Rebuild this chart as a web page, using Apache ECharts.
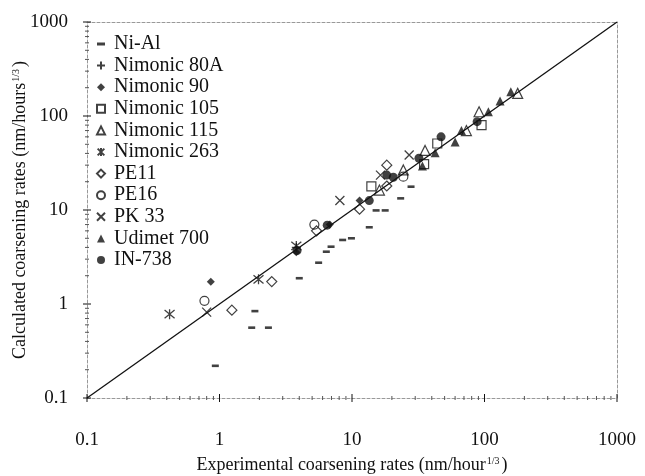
<!DOCTYPE html>
<html>
<head>
<meta charset="utf-8">
<script src="https://cdn.jsdelivr.net/npm/echarts@6/dist/echarts.min.js"></script>
<style>
  html, body { margin: 0; padding: 0; background: #fff; }
  #chart { width: 645px; height: 476px; }
</style>
</head>
<body>
<div id="chart"></div>
<script>
// Experimental vs calculated coarsening rates, log-log, with the y = x line.
const seriesNames = ['Ni-Al', 'Nimonic 80A', 'Nimonic 90', 'Nimonic 105', 'Nimonic 115',
  'Nimonic 263', 'PE11', 'PE16', 'PK 33', 'Udimet 700', 'IN-738'];

// [experimental, calculated]
const niAl = [[0.93, 0.22], [1.75, 0.56], [2.34, 0.56], [1.85, 0.84], [4.0, 1.88], [5.6, 2.75],
  [6.4, 3.6], [6.95, 4.07], [8.5, 4.8], [9.9, 5.0], [13.5, 6.55], [15.2, 9.9], [17.8, 9.9],
  [23.3, 13.3], [27.9, 17.7]];
const nimonic80A = [[3.8, 4.0]];
const nimonic90 = [[0.86, 1.72], [3.8, 3.55], [6.8, 7.0], [11.4, 12.6]];
const nimonic105 = [[14.0, 17.8], [35, 30.8], [44, 51], [95, 80]];
const nimonic115 = [[16.1, 16.3], [24.4, 26.7], [35.6, 43], [73, 70], [91, 111], [178, 174]];
const nimonic263 = [[0.42, 0.78], [1.97, 1.83], [3.8, 4.15]];
const pe11 = [[1.24, 0.86], [2.48, 1.73], [5.4, 6.0], [11.4, 10.2], [18.3, 18.0], [18.3, 30]];
const pe16 = [[0.77, 1.08], [5.2, 7.0], [24.4, 22.6]];
const pk33 = [[0.8, 0.82], [8.1, 12.6], [16.4, 23.5], [27, 38.5]];
const udimet700 = [[34, 29.4], [42.4, 40.6], [60, 53], [67, 70], [107, 111], [131, 144], [158, 181]];
const in738 = [[3.85, 3.7], [6.5, 6.9], [13.5, 12.6], [18.3, 23.5], [20.5, 22.3], [32, 35.5], [47, 60], [88, 87]];

const parityLine = [[0.1, 0.1], [1000, 1000]];

const tickLabels = ['0.1', '1', '10', '100', '1000'];
const majorTicks = [0.1, 1, 10, 100, 1000];
const decades = [0.1, 1, 10, 100];
const mantissas = [2, 3, 4, 5, 6, 7, 8, 9];
const minorTicks = decades.flatMap(d => mantissas.map(m => +(d * m).toPrecision(2)));

const FONT = '"Liberation Serif", "Times New Roman", serif';
const INK = '#111';

const sym = {
  dash: 'path://M0,0H8V3H0Z',
  plus: 'path://M5,0V10M0,5H10',
  cross: 'path://M0,0L10,10M10,0L0,10',
  star: 'path://M0,1L10,11M10,1L0,11M5,0V12'
};

const filled = { color: INK, borderWidth: 0 };
const hollow = { color: 'rgba(255,255,255,0)', borderColor: INK, borderWidth: 1.2 };
const stroke = { color: 'rgba(255,255,255,0)', borderColor: INK, borderWidth: 1.3 };

function scatter(name, data, symbol, size, style) {
  return { name, type: 'scatter', data, symbol, symbolSize: size, itemStyle: style,
    emphasis: { disabled: true }, z: 3 };
}

function tickSeries(values, onX, half, color) {
  return {
    type: 'custom', silent: true, z: 4, clip: false,
    data: values.map(v => onX ? [v, 0.1] : [0.1, v]),
    renderItem: (params, api) => {
      const p = api.coord([api.value(0), api.value(1)]);
      const shape = onX
        ? { x1: p[0], y1: p[1] - half, x2: p[0], y2: p[1] + half }
        : { x1: p[0] - half, y1: p[1], x2: p[0] + half, y2: p[1] };
      return { type: 'line', shape, style: { stroke: color, lineWidth: 1 } };
    }
  };
}

const fmt = v => {
  const i = majorTicks.findIndex(t => Math.abs(Math.log10(t) - Math.log10(v)) < 1e-6);
  return i >= 0 ? tickLabels[i] : '';
};

const frameLine = { show: true, lineStyle: { color: '#999', width: 1, type: [3, 2] } };

const chart = echarts.init(document.getElementById('chart'), null, { renderer: 'canvas' });
chart.setOption({
  animation: false,
  backgroundColor: '#fff',
  textStyle: { fontFamily: FONT, color: INK },
  grid: { left: 87, right: 28, top: 22, bottom: 78, containLabel: false, outerBoundsMode: 'none' },
  legend: {
    orient: 'vertical', left: 96, top: 34, padding: 0,
    itemWidth: 8, itemHeight: 8, itemGap: 1.6,
    symbolKeepAspect: true,
    selectedMode: false,
    data: seriesNames,
    textStyle: { fontFamily: FONT, fontSize: 20, lineHeight: 20, color: INK, padding: [0, 0, 0, 4] }
  },
  xAxis: [{
    type: 'log', logBase: 10, min: 0.1, max: 1000,
    name: 'Experimental coarsening rates (nm/hour{sup|1/3})',
    nameLocation: 'middle', nameGap: 58, nameMoveOverlap: false,
    nameTextStyle: { fontFamily: FONT, fontSize: 18, color: INK,
      rich: { sup: { fontFamily: FONT, fontSize: 10, verticalAlign: 'top', lineHeight: 18, padding: [0, 2, 0, 1] } } },
    axisLine: frameLine, axisTick: { show: false }, splitLine: { show: false },
    axisLabel: { formatter: fmt, fontFamily: FONT, fontSize: 19, color: INK, margin: 33 }
  }, {
    type: 'log', logBase: 10, min: 0.1, max: 1000, position: 'top',
    axisLine: frameLine, axisTick: { show: false }, axisLabel: { show: false }, splitLine: { show: false }
  }],
  yAxis: [{
    type: 'log', logBase: 10, min: 0.1, max: 1000,
    name: 'Calculated coarsening rates (nm/hours{sup|1/3})',
    nameLocation: 'middle', nameGap: 58, nameRotate: 90, nameMoveOverlap: false,
    nameTextStyle: { fontFamily: FONT, fontSize: 18, color: INK,
      rich: { sup: { fontFamily: FONT, fontSize: 10, verticalAlign: 'top', lineHeight: 18, padding: [0, 2, 0, 1] } } },
    axisLine: frameLine, axisTick: { show: false }, splitLine: { show: false },
    axisLabel: { formatter: fmt, fontFamily: FONT, fontSize: 19, color: INK, margin: 19 }
  }, {
    type: 'log', logBase: 10, min: 0.1, max: 1000, position: 'right',
    axisLine: frameLine, axisTick: { show: false }, axisLabel: { show: false }, splitLine: { show: false }
  }],
  series: [
    { type: 'line', data: parityLine, symbol: 'none', silent: true, z: 2,
      lineStyle: { color: INK, width: 1.3 } },
    tickSeries(majorTicks, true, 4, INK),
    tickSeries(minorTicks, true, 2, '#555'),
    tickSeries(majorTicks, false, 4, INK),
    tickSeries(minorTicks, false, 2, '#555'),
    scatter('Ni-Al', niAl, sym.dash, [7, 2.6], filled),
    scatter('Nimonic 80A', nimonic80A, sym.plus, 9, stroke),
    scatter('Nimonic 90', nimonic90, 'diamond', 8, filled),
    scatter('Nimonic 105', nimonic105, 'rect', 9, hollow),
    scatter('Nimonic 115', nimonic115, 'triangle', 10, hollow),
    scatter('Nimonic 263', nimonic263, sym.star, 10, stroke),
    scatter('PE11', pe11, 'diamond', 10, hollow),
    scatter('PE16', pe16, 'circle', 9, hollow),
    scatter('PK 33', pk33, sym.cross, 9, stroke),
    scatter('Udimet 700', udimet700, 'triangle', 9, filled),
    scatter('IN-738', in738, 'circle', 9, filled)
  ]
});
</script>
</body>
</html>
